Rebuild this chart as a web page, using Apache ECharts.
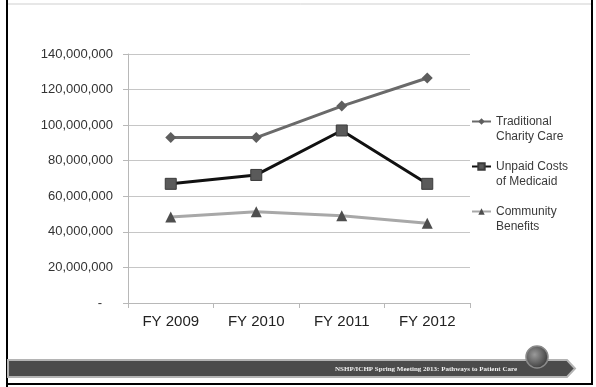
<!DOCTYPE html>
<html>
<head>
<meta charset="utf-8">
<script src="https://cdn.jsdelivr.net/npm/echarts@6/dist/echarts.min.js"></script>
<style>
  body { margin: 0; background: #fff; }
  #chart { width: 596px; height: 387px; }
</style>
</head>
<body>
<div id="chart"></div>
<script>
// values
var years = ["FY 2009", "FY 2010", "FY 2011", "FY 2012"];
var charityCare = [93000000, 93000000, 110700000, 126500000];
var medicaidCosts = [67000000, 72000000, 97000000, 67000000];
var communityBenefits = [48300000, 51300000, 49000000, 44800000];

var chart = echarts.init(document.getElementById("chart"));

var font = "'Liberation Sans', Arial, sans-serif";

var option = {
  animation: false,
  textStyle: { fontFamily: font },
  grid: { left: 128, right: 126, top: 54, bottom: 84 },
  legend: {
    orient: "vertical",
    left: 471,
    top: 99,
    padding: 0,
    itemWidth: 19,
    itemHeight: 8,
    itemGap: 0,
    // leading blank line so the icon sits beside the first line of text
    formatter: function (name) { return "\n" + name; },
    textStyle: {
      fontSize: 12,
      color: "#3a3a3a",
      lineHeight: 15
    },
    data: [
      "Traditional\nCharity Care",
      "Unpaid Costs\nof Medicaid",
      "Community\nBenefits"
    ]
  },
  xAxis: {
    type: "category",
    data: years,
    boundaryGap: true,
    axisLine: { lineStyle: { color: "#b8b8b8" } },
    axisTick: { show: true, length: 5, lineStyle: { color: "#b8b8b8" } },
    axisLabel: { fontSize: 15, color: "#222", margin: 11 }
  },
  yAxis: {
    type: "value",
    min: 0,
    max: 140000000,
    interval: 20000000,
    axisLine: { show: true, lineStyle: { color: "#b8b8b8" } },
    axisTick: { show: true, length: 5, lineStyle: { color: "#b8b8b8" } },
    splitLine: { lineStyle: { color: "#c6c6c6" } },
    axisLabel: {
      fontSize: 13,
      color: "#333",
      margin: 15,
      formatter: function (v) {
        return v === 0 ? "-   " : v.toLocaleString("en-US");
      }
    }
  },
  series: [
    {
      name: "Traditional\nCharity Care",
      type: "line",
      data: charityCare,
      symbol: "diamond",
      symbolSize: 11,
      lineStyle: { color: "#6a6a6a", width: 3 },
      itemStyle: { color: "#5e5e5e" }
    },
    {
      name: "Unpaid Costs\nof Medicaid",
      type: "line",
      data: medicaidCosts,
      symbol: "rect",
      symbolSize: 11,
      lineStyle: { color: "#111", width: 3 },
      itemStyle: { color: "#5a5a5a", borderColor: "#3a3a3a", borderWidth: 1 }
    },
    {
      name: "Community\nBenefits",
      type: "line",
      data: communityBenefits,
      symbol: "triangle",
      symbolSize: 11,
      lineStyle: { color: "#a8a8a8", width: 3 },
      itemStyle: { color: "#4e4e4e" }
    }
  ],
  graphic: [
    // slide frame
    { type: "line", shape: { x1: 8, y1: 4, x2: 593, y2: 4 }, style: { stroke: "#cfcfcf", lineWidth: 1 } },
    { type: "line", shape: { x1: 7, y1: 0, x2: 7, y2: 387 }, style: { stroke: "#000", lineWidth: 2 } },
    { type: "line", shape: { x1: 592, y1: 0, x2: 592, y2: 385 }, style: { stroke: "#000", lineWidth: 2 } },
    { type: "line", shape: { x1: 7, y1: 384, x2: 593, y2: 384 }, style: { stroke: "#000", lineWidth: 2 } },
    // footer banner
    {
      type: "polygon",
      shape: { points: [[8, 360], [567, 360], [575, 368.5], [567, 377], [8, 377]] },
      style: { fill: "#4b4b4b", stroke: "#b4b4b4", lineWidth: 2 }
    },
    {
      type: "text",
      x: 335,
      y: 369,
      style: {
        text: "NSHP/ICHP Spring Meeting 2013: Pathways to Patient Care",
        fill: "#f0f0f0",
        font: "bold 7px 'Liberation Serif', serif",
        verticalAlign: "middle"
      }
    },
    {
      type: "circle",
      shape: { cx: 537, cy: 357, r: 11 },
      style: {
        fill: {
          type: "radial", x: 0.4, y: 0.4, r: 0.7,
          colorStops: [{ offset: 0, color: "#9a9a9a" }, { offset: 1, color: "#2e2e2e" }]
        },
        stroke: "#8a8a8a",
        lineWidth: 1.5
      }
    }
  ]
};

chart.setOption(option);
</script>
</body>
</html>
